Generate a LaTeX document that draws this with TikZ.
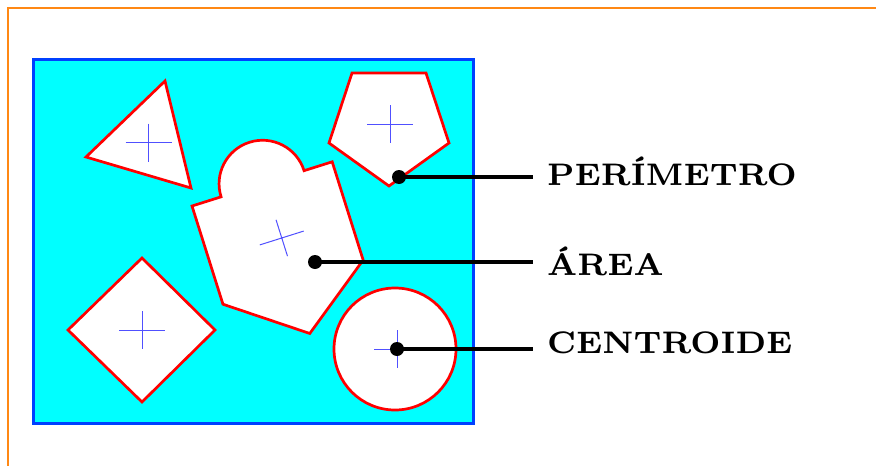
\documentclass[tikz,border=0pt]{standalone}
\usetikzlibrary{positioning}

\definecolor{cian}{RGB}{0,255,255}
\definecolor{azul}{RGB}{0,64,255}
\definecolor{naranja}{RGB}{255,136,20}
\definecolor{rojo}{RGB}{255,0,0}
\definecolor{azulcruz}{RGB}{80,80,255}

\begin{document}
\begin{tikzpicture}[
  x=1pt, y=-1pt,
  % Estilos de regiones y piezas
  marco/.style={draw=naranja, line width=2pt},
  region/.style={draw=azul, fill=cian, line width=3pt},
  pieza/.style={draw=rojo, fill=white, line width=2.7pt, line join=miter},
  cruz/.style={draw=azulcruz, line width=1pt},
  % Estilos de etiquetas y conectores
  punto/.style={circle, fill=black, inner sep=0pt, minimum size=14pt},
  conector/.style={draw, line width=3.5pt},
  etiqueta/.style={anchor=base west, inner sep=0pt, font=\fontsize{7}{8}\selectfont\bfseries}
]
  \useasboundingbox (0,0) rectangle (876,466);

  % ==========================================
  % MARCO Y REGION
  % ==========================================
  \draw[marco] (8,466) -- (8,8) -- (876,8);
  \draw[region] (33.5,59.5) rectangle (473,423);

  % ==========================================
  % PIEZAS CON SU CENTROIDE
  % ==========================================

  % --- triangulo ---
  \draw[pieza] (165,81) -- (86,157) -- (191,188) -- cycle;
  \draw[cruz] (148.5,142.5) +(-23,0) -- +(23,0) +(0,-19) -- +(0,19);

  % --- rombo ---
  \draw[pieza] (142,258) -- (215,330) -- (142,402) -- (68,330) -- cycle;
  \draw[cruz] (142,330) +(-23,0) -- +(23,0) +(0,-19) -- +(0,19);

  % --- pentagono ---
  \draw[pieza] (352,73) -- (426,73) -- (449,143) -- (389,186) -- (329,143) -- cycle;
  \draw[cruz] (390,124) +(-23,0) -- +(23,0) +(0,-19) -- +(0,19);

  % --- circulo ---
  \draw[pieza] (395,349) circle[radius=61];
  \draw[cruz] (397,349) +(-23,0) -- +(23,0) +(0,-19) -- +(0,19);

  % --- pieza compuesta (girada) ---
  \begin{scope}[shift={(192,206)}, rotate=17.5]
    \draw[pieza] (0,0) -- (30.5,0) arc[start angle=180, end angle=360, radius=43.5]
      -- (147,0) -- (147,103) -- (74,157) -- (0,103) -- cycle;
    \draw[cruz] (76,57.5) +(-23,0) -- +(23,0) +(0,-19) -- +(0,19);
  \end{scope}

  % ==========================================
  % ETIQUETAS
  % ==========================================
  \node[punto] (dotP) at (399,177) {};
  \node[punto] (dotA) at (315,262) {};
  \node[punto] (dotC) at (397,349) {};

  \node[etiqueta] (lblP) at (547,185.5) {\scalebox{4.45}{PERÍMETRO}};
  \node[etiqueta] (lblA) at (547,275) {\scalebox{4.45}{ÁREA}};
  \node[etiqueta] (lblC) at (547,353.5) {\scalebox{4.45}{CENTROIDE}};

  \coordinate (endP) at (533,177);
  \coordinate (endA) at (533,262);
  \coordinate (endC) at (533,349);

  \draw[conector] (dotP.center) -- (endP);
  \draw[conector] (dotA.center) -- (endA);
  \draw[conector] (dotC.center) -- (endC);

\end{tikzpicture}
\end{document}
